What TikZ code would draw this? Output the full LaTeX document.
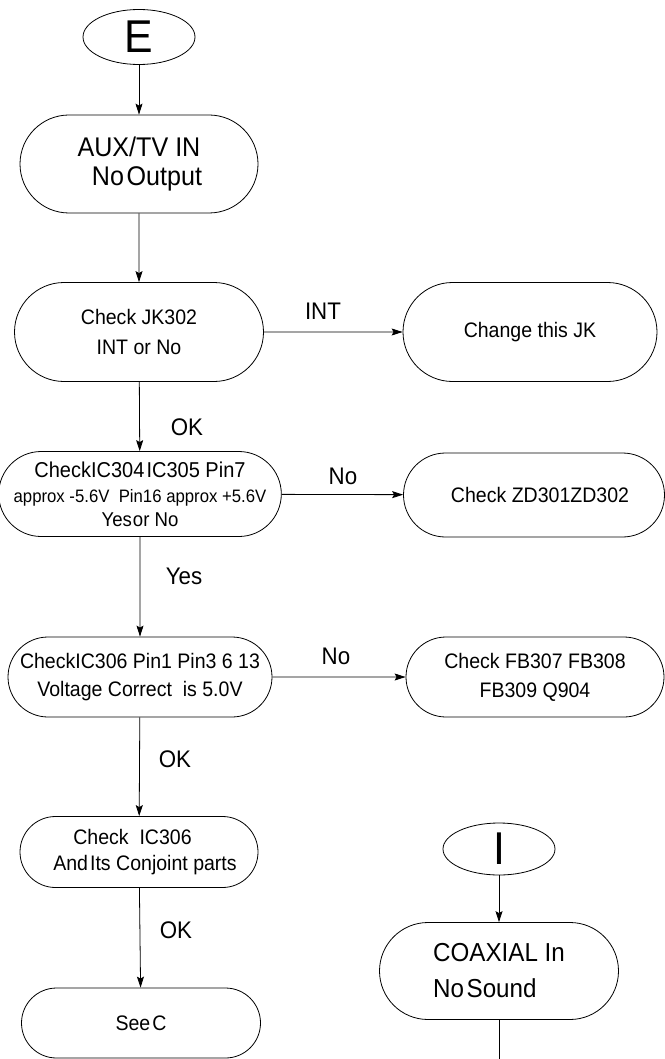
\documentclass[tikz,border=0pt]{standalone}
\usepackage{fontspec}
\setmainfont[FakeStretch=0.93]{Liberation Sans}
\usetikzlibrary{shapes.misc,shapes.geometric,arrows.meta}
\begin{document}
\begin{tikzpicture}[x=1pt,y=-1pt,
  stad/.style={draw,line width=0.8pt,rounded rectangle,inner sep=0pt,align=center},
  oval/.style={draw,line width=0.8pt,ellipse,inner sep=0pt},
  arr/.style={draw,line width=0.8pt,-{Stealth[length=11pt,width=7pt,inset=2pt]}},
  lbl/.style={inner sep=0pt,font=\fontsize{24}{24}\selectfont},
  small/.style={font=\fontsize{21}{29}\selectfont}]
\useasboundingbox (0,0) rectangle (664,1059);
% left column
\node[oval,minimum width=112,minimum height=55,font=\fontsize{46}{46}\selectfont] (E) at (139,37) {E};
\node[stad,minimum width=238,minimum height=98,font=\fontsize{27}{29}\selectfont] (aux) at (139,164) {AUX/TV IN\\\hspace*{16pt}No\hspace{0.1em}Output};
\node[stad,small,minimum width=249,minimum height=99,font=\fontsize{21}{30}\selectfont] (jk) at (139,332) {Check JK302\\INT or No};
\node[stad,minimum width=254,minimum height=85,font=\fontsize{21.5}{25}\selectfont] (ic304) at (140,494) {CheckIC304\hspace{0.1em}IC305 Pin7\\{\fontsize{18}{18}\selectfont approx -5.6V\ \ Pin16 approx +5.6V}\\[-1pt]{\fontsize{20}{20}\selectfont Yes\hspace{0.05em}or No}};
\node[stad,small,minimum width=264,minimum height=80,font=\fontsize{21}{28}\selectfont] (ic306) at (140,677) {CheckIC306 Pin1 Pin3 6 13\\Voltage Correct\ \ is 5.0V};
\node[stad,small,minimum width=238,minimum height=71,font=\fontsize{21}{26}\selectfont] (chk) at (139,852) {Check\ \ IC306\hspace*{13pt}\\\hspace*{12pt}And\hspace{0.1em}Its Conjoint parts};
\node[stad,small,minimum width=239,minimum height=70] (seec) at (141,1023) {See\hspace{0.1em}C};
% right column
\node[stad,small,minimum width=254,minimum height=99] (chg) at (530,332) {Change this JK};
\node[stad,small,minimum width=261,minimum height=84] (zd) at (534,495) {\hspace*{12pt}Check ZD301ZD302};
\node[stad,small,minimum width=258,minimum height=80,font=\fontsize{21}{29}\selectfont] (fb) at (535,677) {Check FB307 FB308\\FB309 Q904};
\node[oval,minimum width=112,minimum height=52,font=\fontsize{46}{46}\selectfont] (I) at (499,849) {I};
\node[stad,minimum width=239,minimum height=97,align=left,font=\fontsize{26}{36}\selectfont] (coax) at (499,971) {COAXIAL In\\No\hspace{0.1em}Sound};
\coordinate (cend) at (499,1070);
% connectors
\draw[arr] (E) -- (aux);
\draw[arr] (aux) -- (jk);
\draw[arr] (jk) -- (chg);
\draw[arr] (jk) -- (ic304);
\draw[arr] (ic304) -- (zd);
\draw[arr] (ic304) -- (ic306);
\draw[arr] (ic306) -- (fb);
\draw[arr] (ic306) -- (chk);
\draw[arr] (chk) -- (seec);
\draw[arr] (I) -- (coax);
\draw[line width=0.8pt] (coax) -- (cend);
% labels
\node[lbl] (lint) at (323,311) {INT};
\node[lbl] (lok1) at (187,427) {OK};
\node[lbl] (lno1) at (343,476) {No};
\node[lbl] (lyes) at (184,576) {Yes};
\node[lbl] (lno2) at (336,656) {No};
\node[lbl] (lok2) at (175,759) {OK};
\node[lbl] (lok3) at (176,930) {OK};
\end{tikzpicture}
\end{document}
